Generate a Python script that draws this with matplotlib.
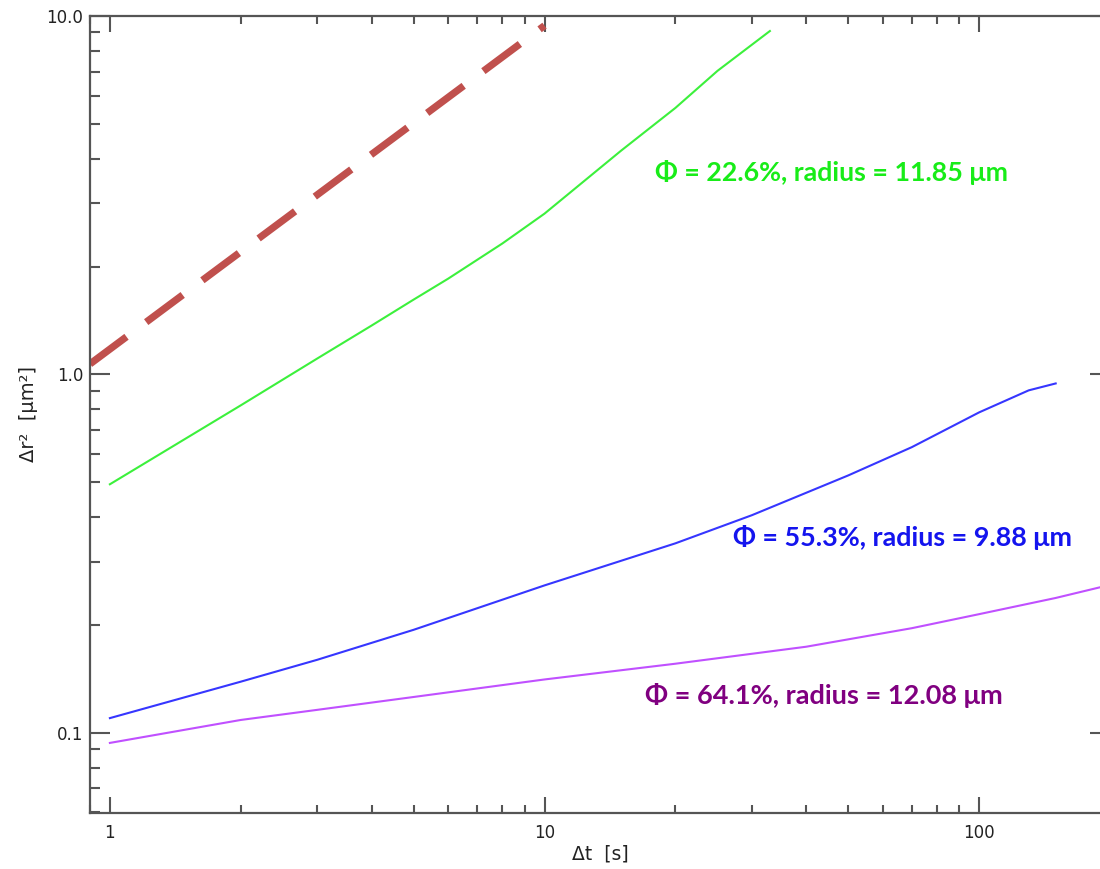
import numpy as np
import matplotlib
matplotlib.use("Agg")
import matplotlib.pyplot as plt
from matplotlib.ticker import FixedLocator, FixedFormatter, LogLocator, NullFormatter

# Mean squared displacement vs lag time for three packing fractions
t_green = [1, 2, 3, 4, 5, 6, 8, 10, 15, 20, 25, 33]
msd_green = [0.494, 0.820, 1.108, 1.369, 1.618, 1.85, 2.32, 2.81, 4.21, 5.54, 7.03, 9.08]

t_blue = [1, 2, 3, 5, 10, 20, 30, 50, 70, 100, 130, 150]
msd_blue = [0.110, 0.139, 0.160, 0.194, 0.258, 0.338, 0.405, 0.523, 0.627, 0.784, 0.903, 0.944]

t_purple = [1, 2, 3, 5, 10, 20, 40, 70, 100, 150, 190]
msd_purple = [0.0938, 0.1087, 0.116, 0.126, 0.141, 0.156, 0.174, 0.196, 0.2145, 0.238, 0.255]

# Reference guide line (dashed)
t_ref = [0.9, 10.0]
msd_ref = [1.07, 9.4]

labels = [
    "Φ = 22.6%, radius = 11.85 μm",
    "Φ = 55.3%, radius = 9.88 μm",
    "Φ = 64.1%, radius = 12.08 μm",
]

x_ticks = [1, 10, 100]
x_ticklabels = ["1", "10", "100"]
y_ticks = [0.1, 1.0, 10.0]
y_ticklabels = ["0.1", "1.0", "10.0"]

W, H = 1100, 869
fig = plt.figure(figsize=(W / 100, H / 100), dpi=100)
ax = fig.add_axes([90 / W, (H - 813) / H, 1020 / W, 797 / H])

ax.set_xscale("log")
ax.set_yscale("log")
ax.set_xlim(0.9, 200)
ax.set_ylim(0.0598, 10.0)

ax.plot(t_ref, msd_ref, color="#c0504d", lw=5.2, dashes=(6.3, 3.4),
        solid_capstyle="butt", dash_capstyle="butt")
ax.plot(t_green, msd_green, color="#3cf03c", lw=1.5)
ax.plot(t_blue, msd_blue, color="#3636ff", lw=1.5)
ax.plot(t_purple, msd_purple, color="#c050ff", lw=1.5)

axis_col = "#555555"
for s in ax.spines.values():
    s.set_color(axis_col)
    s.set_linewidth(1.6)

ax.xaxis.set_major_locator(FixedLocator(x_ticks))
ax.xaxis.set_major_formatter(FixedFormatter(x_ticklabels))
ax.yaxis.set_major_locator(FixedLocator(y_ticks))
ax.yaxis.set_major_formatter(FixedFormatter(y_ticklabels))
ax.xaxis.set_minor_locator(LogLocator(base=10, subs=np.arange(2, 10), numticks=20))
ax.yaxis.set_minor_locator(LogLocator(base=10, subs=np.arange(2, 10), numticks=20))
ax.xaxis.set_minor_formatter(NullFormatter())
ax.yaxis.set_minor_formatter(NullFormatter())

ax.tick_params(axis="both", which="both", direction="in", top=True, right=True,
               color=axis_col, width=1.5, labelsize=12, labelcolor="#222222")
ax.tick_params(axis="x", which="major", length=11.5, pad=8)
ax.tick_params(axis="x", which="minor", length=5.8)
ax.tick_params(axis="y", which="major", length=14.4, pad=5)
ax.tick_params(axis="y", which="minor", length=7.2)

ax.set_xlabel("Δt  [s]", fontsize=13.5, color="#222222", labelpad=2)
ax.set_ylabel("Δr²  [μm²]", fontsize=14, color="#222222", labelpad=6)

# Annotation labels, each fitted to its target pixel width
specs = [
    (labels[0], 17.96, 3.65, "#18ec18", 355),
    (labels[1], 27.2, 0.3515, "#1414ee", 340),
    (labels[2], 17.0, 0.1276, "#800080", 358),
]
fig.canvas.draw()
renderer = fig.canvas.get_renderer()
for txt, x, y, col, target_w in specs:
    t = ax.text(x, y, txt, color=col, fontsize=15, fontweight="bold",
                family="Lato", ha="left", va="center")
    w = t.get_window_extent(renderer).width
    t.set_fontsize(15 * target_w / w)

fig.savefig("out.png", dpi=100)
